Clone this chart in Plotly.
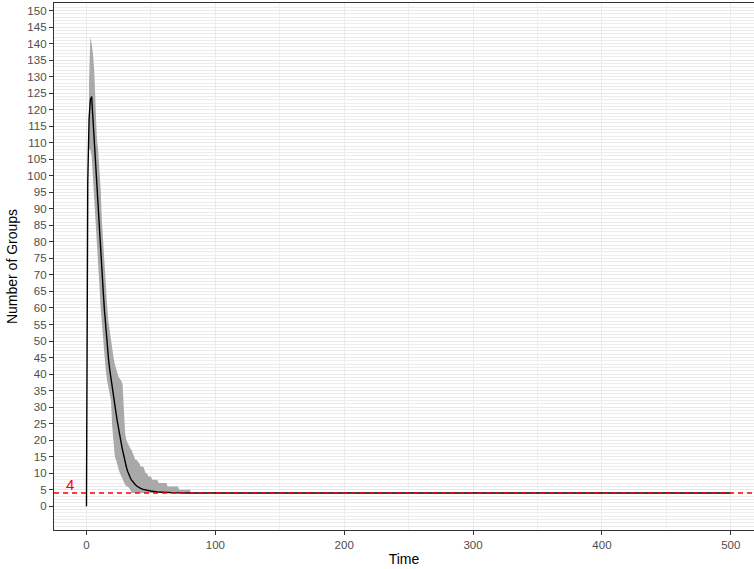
import plotly.graph_objects as go

# Mean trajectory (time, number of groups)
mean_t = list(range(0, 41)) + [42, 44, 46, 48, 50, 55, 60, 70, 80, 500]
mean_v = [0, 98, 117, 123, 124, 117, 110, 103, 96, 90,
          85, 79, 72, 65, 59, 53.5, 49, 45, 41.5, 38.5,
          36, 33.5, 31, 28, 25.5, 23, 21, 19, 17, 15,
          13.3, 11.8, 10.5, 9.4, 8.6, 7.9, 7.3, 6.8, 6.5, 6.1,
          5.8, 5.4, 5.1, 4.9, 4.7, 4.6, 4.3, 4.15, 4.05, 4.0, 4.0]

# Interval band: upper bound
hi_t = list(range(2, 41)) + [41, 42, 44, 45, 46, 47, 48, 50, 51, 55, 56, 62, 63, 71, 72, 80.5, 81]
hi_v = [128, 142, 140, 137, 132, 120, 112, 108, 103, 96,
        86, 79, 73, 67, 61, 56, 53, 50, 47, 45,
        43, 41.5, 40, 39, 38.5, 38, 37, 30, 22, 20,
        19, 18, 17.5, 17, 16, 15, 14, 14, 13.5,
        13, 12, 12, 11, 10, 10, 9, 9, 8, 8, 7, 7, 6, 6, 5, 5, 4]
# Interval band: lower bound
lo_t = list(range(2, 36)) + [81]
lo_v = [108, 108, 106, 100, 94, 87, 82, 75, 67, 60,
        55, 51, 45, 41, 38, 36, 34, 32, 24, 19,
        15, 14, 12, 11, 10, 9, 8, 7, 6.5, 6,
        6, 5.5, 5, 4, 4]

ref_value = 4
x_ticks = [0, 100, 200, 300, 400, 500]
y_ticks = list(range(0, 151, 5))

fig = go.Figure()
fig.add_trace(go.Scatter(x=lo_t, y=lo_v, mode="lines", line=dict(width=0),
                         showlegend=False, hoverinfo="skip"))
fig.add_trace(go.Scatter(x=hi_t, y=hi_v, mode="lines", line=dict(width=0),
                         fill="tonexty", fillcolor="#a9a9a9", showlegend=False, hoverinfo="skip"))
fig.add_trace(go.Scatter(x=mean_t, y=mean_v, mode="lines", line=dict(color="black", width=1.4),
                         showlegend=False))
fig.add_hline(y=ref_value, line=dict(color="red", width=1.5, dash="5px,4px"), layer="above")
fig.add_annotation(x=-13, y=ref_value, text=str(ref_value), showarrow=False, yanchor="bottom",
                   yshift=-2, font=dict(color="red", size=15, family="Liberation Sans, Arial"))

axis_font = dict(family="Liberation Sans, Arial", size=11.5, color="#4d4d4d")
fig.update_layout(
    width=754, height=569,
    margin=dict(l=54, r=0, t=3, b=39),
    paper_bgcolor="white", plot_bgcolor="white",
    font=dict(family="Liberation Sans, Arial"),
    xaxis=dict(range=[-25.2, 518], tickmode="array", tickvals=x_ticks, tickfont=axis_font,
               showgrid=True, gridcolor="#ebebeb", gridwidth=1.2,
               minor=dict(tickmode="linear", tick0=50, dtick=100, showgrid=True,
                          gridcolor="#f0f0f0", gridwidth=1, ticklen=0),
               ticks="outside", ticklen=4, tickcolor="#333333",
               showline=True, linecolor="#333333", linewidth=1.3, mirror=True, zeroline=False,
               title=dict(text="Time", font=dict(size=14, color="black"), standoff=4)),
    yaxis=dict(range=[-7.2, 152.3], tickmode="array", tickvals=y_ticks, tickfont=axis_font,
               showgrid=True, gridcolor="#e9e9e9", gridwidth=1,
               minor=dict(tickmode="linear", tick0=0, dtick=1, showgrid=True,
                          gridcolor="#ececec", gridwidth=1, ticklen=0),
               ticks="outside", ticklen=4, tickcolor="#333333",
               showline=True, linecolor="#333333", linewidth=1.3, zeroline=False,
               title=dict(text="Number of Groups", font=dict(size=14, color="black"), standoff=6)),
)

fig.write_html("out.html")
